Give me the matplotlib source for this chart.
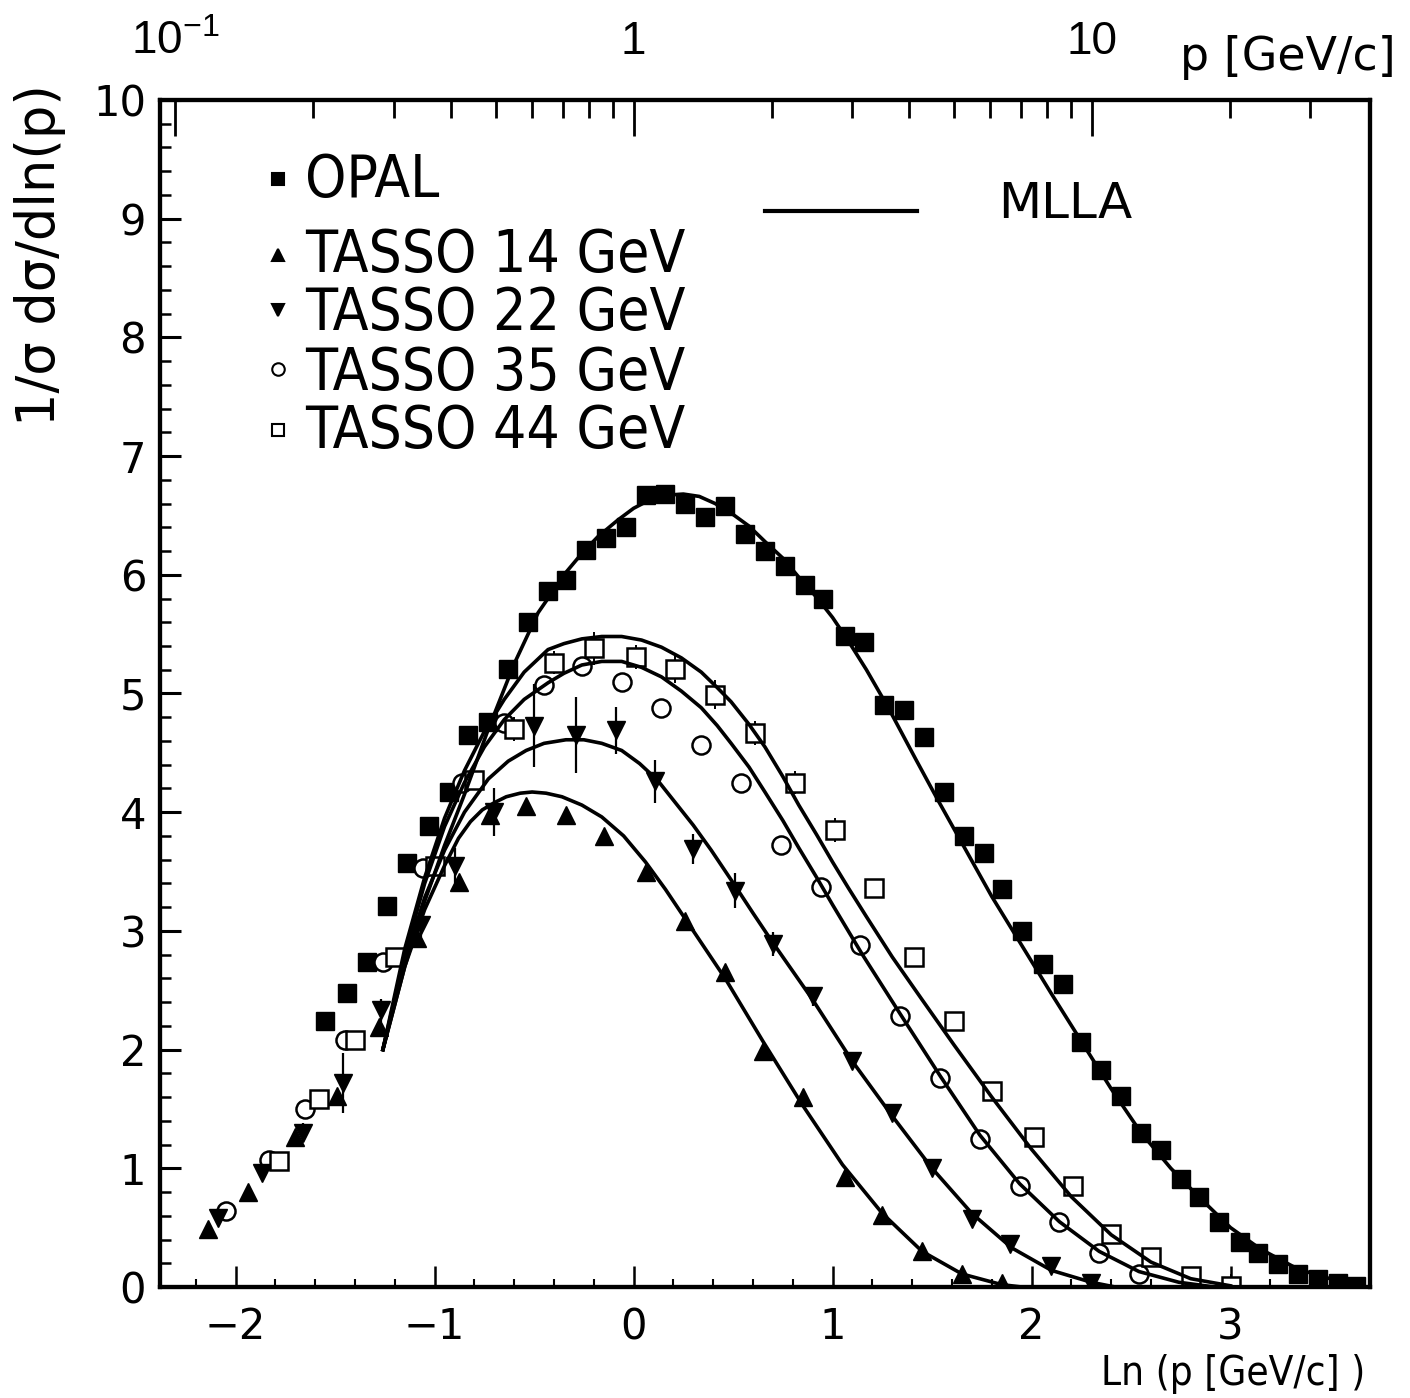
import matplotlib
matplotlib.use("Agg")
from matplotlib import pyplot as plt
from matplotlib import font_manager
from matplotlib.ticker import MultipleLocator, FixedLocator, NullFormatter

plt.rcParams['font.family'] = ['Liberation Sans', 'DejaVu Sans']
plt.rcParams['mathtext.fontset'] = 'custom'
plt.rcParams['mathtext.rm'] = 'Liberation Sans'

# a narrow face for the legend if one is installed
narrow = None
for f in font_manager.fontManager.ttflist:
    if f.fname.endswith('DejaVuSansCondensed.ttf'):
        narrow = f.fname
        break

# OPAL (filled squares)
opal_x = [-1.55, -1.44, -1.34, -1.24, -1.14, -1.03, -0.93, -0.83, -0.73, -0.63, -0.53, -0.43,
          -0.34, -0.24, -0.14, -0.04, 0.06, 0.16, 0.26, 0.36, 0.46, 0.56, 0.66, 0.76, 0.86,
          0.95, 1.06, 1.16, 1.26, 1.36, 1.46, 1.56, 1.66, 1.76, 1.85, 1.95, 2.06, 2.16, 2.25,
          2.35, 2.45, 2.55, 2.65, 2.75, 2.84, 2.94, 3.05, 3.14, 3.24, 3.34, 3.44, 3.54, 3.63]
opal_y = [2.24, 2.48, 2.74, 3.21, 3.57, 3.88, 4.17, 4.65, 4.76, 5.21, 5.60, 5.86,
          5.96, 6.21, 6.31, 6.40, 6.67, 6.68, 6.60, 6.49, 6.58, 6.34, 6.20, 6.07, 5.91,
          5.80, 5.48, 5.43, 4.90, 4.86, 4.63, 4.17, 3.80, 3.66, 3.35, 3.00, 2.72, 2.55, 2.06,
          1.83, 1.61, 1.30, 1.15, 0.91, 0.76, 0.55, 0.38, 0.29, 0.19, 0.11, 0.07, 0.03, 0.01]

# TASSO 14 GeV
t14_x = [-2.14, -1.94, -1.70, -1.49, -1.28, -1.09, -0.88, -0.72, -0.54, -0.34, -0.15,
         0.06, 0.26, 0.46, 0.65, 0.85, 1.06, 1.25, 1.45, 1.65, 1.85]
t14_y = [0.49, 0.80, 1.26, 1.61, 2.19, 2.94, 3.41, 3.98, 4.05, 3.98, 3.80,
         3.50, 3.08, 2.65, 1.99, 1.60, 0.93, 0.61, 0.30, 0.11, 0.03]

# TASSO 22 GeV
t22_x = [-2.09, -1.87, -1.66, -1.46, -1.27, -1.07, -0.90, -0.70, -0.50, -0.29, -0.09,
         0.11, 0.30, 0.51, 0.70, 0.90, 1.10, 1.30, 1.50, 1.70, 1.89, 2.10, 2.30]
t22_y = [0.58, 0.96, 1.30, 1.72, 2.33, 3.05, 3.55, 4.00, 4.73, 4.65, 4.69,
         4.26, 3.69, 3.34, 2.89, 2.45, 1.90, 1.47, 1.00, 0.57, 0.36, 0.18, 0.03]
t22_err = [0.05, 0.05, 0.08, 0.25, 0.10, 0.10, 0.15, 0.20, 0.35, 0.32, 0.20,
           0.18, 0.13, 0.15, 0.10, 0.08, 0.06, 0.05, 0.05, 0.03, 0.03, 0.02, 0.02]

# TASSO 35 GeV
t35_x = [-2.05, -1.83, -1.65, -1.45, -1.26, -1.06, -0.86, -0.65, -0.45, -0.26, -0.06,
         0.14, 0.34, 0.54, 0.74, 0.94, 1.14, 1.34, 1.54, 1.74, 1.94, 2.14, 2.34, 2.54]
t35_y = [0.64, 1.07, 1.50, 2.08, 2.74, 3.53, 4.25, 4.75, 5.07, 5.23, 5.10,
         4.88, 4.57, 4.25, 3.72, 3.37, 2.88, 2.28, 1.76, 1.25, 0.85, 0.55, 0.29, 0.11]

# TASSO 44 GeV
t44_x = [-1.78, -1.58, -1.40, -1.20, -1.00, -0.80, -0.60, -0.40, -0.20, 0.01, 0.21, 0.41,
         0.61, 0.81, 1.01, 1.21, 1.41, 1.61, 1.80, 2.01, 2.21, 2.40, 2.60, 2.80, 3.00]
t44_y = [1.06, 1.58, 2.08, 2.78, 3.55, 4.27, 4.70, 5.26, 5.38, 5.31, 5.21, 4.99,
         4.67, 4.25, 3.85, 3.36, 2.78, 2.24, 1.65, 1.26, 0.85, 0.45, 0.25, 0.09, 0.01]
t44_err = [0.04, 0.05, 0.05, 0.06, 0.08, 0.08, 0.10, 0.10, 0.14, 0.10, 0.12, 0.12,
           0.10, 0.10, 0.10, 0.08, 0.06, 0.05, 0.05, 0.04, 0.04, 0.03, 0.03, 0.02, 0.10]

# MLLA curves
mlla_opal_x = [-1.26, -1.15, -1.05, -0.95, -0.85, -0.73, -0.60, -0.48, -0.34, -0.26, -0.18,
               -0.08, 0.00, 0.08, 0.16, 0.25, 0.33, 0.41, 0.49, 0.58, 0.66, 0.75, 0.83,
               0.92, 1.00, 1.08, 1.17, 1.28, 1.42, 1.53, 1.67, 1.80, 1.95, 2.10, 2.25,
               2.40, 2.55, 2.70, 2.84, 3.00, 3.15, 3.34, 3.50, 3.64]
mlla_opal_y = [2.00, 2.70, 3.25, 3.72, 4.15, 4.70, 5.25, 5.68, 6.02, 6.18, 6.32,
               6.46, 6.56, 6.63, 6.67, 6.68, 6.66, 6.60, 6.52, 6.41, 6.28, 6.14, 5.98,
               5.81, 5.64, 5.44, 5.20, 4.88, 4.44, 4.10, 3.68, 3.29, 2.88, 2.47, 2.07,
               1.67, 1.30, 1.00, 0.76, 0.50, 0.32, 0.15, 0.07, 0.03]

mlla_14_x = [-1.26, -1.15, -1.05, -0.95, -0.88, -0.82, -0.76, -0.70, -0.64, -0.57, -0.51,
             -0.44, -0.36, -0.26, -0.16, -0.05, 0.06, 0.16, 0.26, 0.46, 0.65, 0.85, 1.05,
             1.25, 1.45, 1.65, 1.85, 1.95]
mlla_14_y = [2.00, 2.70, 3.18, 3.55, 3.78, 3.92, 4.02, 4.08, 4.13, 4.16, 4.17,
             4.16, 4.13, 4.06, 3.96, 3.80, 3.58, 3.35, 3.10, 2.60, 2.07, 1.53, 1.03,
             0.62, 0.30, 0.11, 0.02, 0.00]

mlla_22_x = [-1.26, -1.15, -1.05, -0.95, -0.85, -0.73, -0.63, -0.54, -0.45, -0.34, -0.25,
             -0.16, -0.06, 0.03, 0.12, 0.21, 0.30, 0.39, 0.51, 0.60, 0.70, 0.90, 1.10,
             1.30, 1.50, 1.70, 1.90, 2.10, 2.30, 2.42]
mlla_22_y = [2.00, 2.75, 3.28, 3.68, 4.00, 4.28, 4.43, 4.52, 4.58, 4.61, 4.61,
             4.58, 4.52, 4.41, 4.27, 4.08, 3.89, 3.68, 3.38, 3.15, 2.90, 2.42, 1.90,
             1.44, 1.00, 0.62, 0.33, 0.14, 0.04, 0.00]

mlla_35_x = [-1.26, -1.15, -1.05, -0.95, -0.85, -0.75, -0.65, -0.55, -0.43, -0.35, -0.26,
             -0.16, -0.06, 0.04, 0.14, 0.24, 0.34, 0.42, 0.49, 0.58, 0.66, 0.75, 0.83,
             0.92, 1.00, 1.15, 1.34, 1.54, 1.74, 1.94, 2.14, 2.34, 2.54, 2.74, 2.92]
mlla_35_y = [2.00, 2.80, 3.40, 3.88, 4.25, 4.55, 4.78, 4.95, 5.09, 5.17, 5.24,
             5.27, 5.27, 5.22, 5.14, 5.02, 4.88, 4.73, 4.58, 4.38, 4.17, 3.93, 3.70,
             3.45, 3.22, 2.80, 2.30, 1.78, 1.28, 0.87, 0.55, 0.30, 0.13, 0.04, 0.00]

mlla_44_x = [-1.26, -1.15, -1.05, -0.95, -0.85, -0.75, -0.65, -0.55, -0.43, -0.35, -0.26,
             -0.16, -0.06, 0.04, 0.14, 0.24, 0.34, 0.42, 0.49, 0.58, 0.66, 0.75, 0.83,
             0.92, 1.00, 1.08, 1.17, 1.30, 1.45, 1.61, 1.80, 2.00, 2.20, 2.40, 2.60,
             2.80, 3.00]
mlla_44_y = [2.00, 2.85, 3.45, 3.95, 4.35, 4.68, 4.95, 5.18, 5.37, 5.42, 5.46,
             5.48, 5.48, 5.45, 5.39, 5.30, 5.18, 5.05, 4.93, 4.74, 4.55, 4.30, 4.06,
             3.81, 3.58, 3.36, 3.12, 2.78, 2.42, 2.04, 1.60, 1.16, 0.76, 0.44, 0.21,
             0.07, 0.01]

legend_labels = ['OPAL', 'TASSO 14 GeV', 'TASSO 22 GeV', 'TASSO 35 GeV', 'TASSO 44 GeV']
top_ticks = [0.1, 1, 10]
top_ticklabels = [r'$\mathregular{10^{-1}}$', '1', '10']
top_minor = [0.2, 0.3, 0.4, 0.5, 0.6, 0.7, 0.8, 0.9, 2, 3, 4, 5, 6, 7, 8, 9, 20, 30]

xmin, xmax = -2.38, 3.70

fig = plt.figure(figsize=(14.1, 13.98), dpi=100)
ax = fig.add_axes([0.1135, 0.0794, 0.858, 0.8491])

# data
ax.plot(opal_x, opal_y, 's', color='k', ms=13, zorder=3)
ax.plot(t14_x, t14_y, '^', color='k', ms=13, zorder=3)
ax.errorbar(t22_x, t22_y, yerr=t22_err, fmt='v', color='k', ms=13, elinewidth=1.6,
            capsize=0, zorder=3)
ax.plot(t35_x, t35_y, 'o', mfc='white', mec='k', mew=1.8, ms=13, zorder=3)
ax.errorbar(t44_x, t44_y, yerr=t44_err, fmt='s', mfc='white', mec='k', mew=1.8, ms=13,
            ecolor='k', elinewidth=1.4, capsize=0, zorder=3)

# MLLA curves
for cx, cy in [(mlla_opal_x, mlla_opal_y), (mlla_14_x, mlla_14_y), (mlla_22_x, mlla_22_y),
               (mlla_35_x, mlla_35_y), (mlla_44_x, mlla_44_y)]:
    ax.plot(cx, cy, '-', color='k', lw=2.6, zorder=4, solid_joinstyle='round')

ax.set_xlim(xmin, xmax)
ax.set_ylim(0, 10)

ax.xaxis.set_major_locator(MultipleLocator(1))
ax.xaxis.set_minor_locator(MultipleLocator(0.2))
ax.yaxis.set_major_locator(MultipleLocator(1))
ax.yaxis.set_minor_locator(MultipleLocator(0.2))
ax.tick_params(which='both', direction='in', top=False, right=False, color='k')
ax.tick_params(axis='x', which='major', length=15, width=1.8, pad=14)
ax.tick_params(axis='x', which='minor', length=6, width=1.5)
ax.tick_params(axis='y', which='major', length=15, width=2.2, pad=10)
ax.tick_params(axis='y', which='minor', length=8, width=1.8)
for lab in ax.get_xticklabels() + ax.get_yticklabels():
    lab.set_family('DejaVu Sans')
    lab.set_fontsize(30)
for s in ax.spines.values():
    s.set_linewidth(3)

# top axis in p
ax2 = ax.twiny()
ax2.set_xscale('log')
ax2.set_xlim(2.718281828 ** xmin, 2.718281828 ** xmax)
ax2.xaxis.set_major_locator(FixedLocator(top_ticks))
ax2.xaxis.set_minor_locator(FixedLocator(top_minor))
ax2.xaxis.set_minor_formatter(NullFormatter())
ax2.set_xticklabels(top_ticklabels, fontsize=33)
ax2.tick_params(axis='x', which='major', direction='in', length=26, width=2, pad=26)
ax2.tick_params(axis='x', which='minor', direction='in', length=13, width=2)
for s in ax2.spines.values():
    s.set_linewidth(3)

# legend / label fonts
if narrow is not None:
    leg_font = dict(fontproperties=font_manager.FontProperties(fname=narrow, size=42))
    xlab_font = dict(fontproperties=font_manager.FontProperties(fname=narrow, size=29))
else:
    leg_font = dict(fontsize=39)
    xlab_font = dict(fontsize=28)

fig.text(1180 / 1410, 1 - 70 / 1398, 'p [GeV/c]', fontsize=33, family='DejaVu Sans',
         ha='left', va='baseline')
fig.text(1365 / 1410, 1 - 1385 / 1398, 'Ln (p [GeV/c] )', ha='right', va='baseline',
         **xlab_font)
fig.text(40 / 1410, 1 - 255 / 1398, '1/σ dσ/dln(p)', fontsize=38, family='DejaVu Sans',
         rotation=90, ha='center', va='center')

leg_marks = [dict(marker='s', mfc='k'), dict(marker='^', mfc='k'), dict(marker='v', mfc='k'),
             dict(marker='o', mfc='white'), dict(marker='s', mfc='white')]
leg_mark_y = [0.933, 0.869, 0.823, 0.773, 0.722]
leg_text_y = [0.918, 0.855, 0.806, 0.756, 0.707]
for m, my, ty, lab in zip(leg_marks, leg_mark_y, leg_text_y, legend_labels):
    ax.plot([0.0975], [my], ls='none', mec='k', mew=1.5, ms=9, transform=ax.transAxes,
            clip_on=False, **m)
    ax.text(0.120, ty, lab, ha='left', va='baseline', transform=ax.transAxes, **leg_font)

ax.plot([0.50, 0.626], [0.9065, 0.9065], '-', color='k', lw=3, transform=ax.transAxes)
ax.text(0.6926, 0.9006, 'MLLA', fontsize=36, family='DejaVu Sans', ha='left',
        va='baseline', transform=ax.transAxes)

fig.savefig('out.png', dpi=100)
